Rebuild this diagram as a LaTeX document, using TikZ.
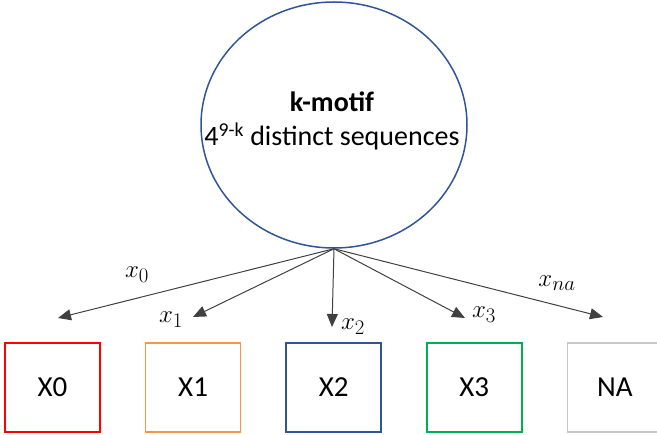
\documentclass[tikz,border=0pt]{standalone}
\usepackage{fontspec}
\setmainfont{Carlito}
\usepackage{xcolor}
\usetikzlibrary{arrows.meta,positioning,shapes.geometric}

\definecolor{motifblue}{HTML}{2F5597}
\definecolor{clsred}{HTML}{FF0000}
\definecolor{clsorange}{HTML}{F79646}
\definecolor{clsblue}{HTML}{2F5597}
\definecolor{clsgreen}{HTML}{00B050}
\definecolor{clsgray}{HTML}{C8C8C8}

\begin{document}
\begin{tikzpicture}[
  x=1pt, y=-1pt, node distance=44pt,
  motif/.style={draw=motifblue, line width=1.5pt, ellipse, minimum width=266pt, minimum height=246pt, inner sep=0pt},
  motiftext/.style={align=center, inner sep=0pt, font=\fontsize{28}{34}\selectfont},
  cls/.style={draw, line width=1.6pt, minimum width=95pt, minimum height=89pt, inner sep=0pt, font=\fontsize{29}{30}\selectfont},
  lbl/.style={font=\fontsize{30}{32}\selectfont, inner sep=0pt},
  arr/.style={draw=black!75, line width=1pt, -{Triangle[length=13pt,width=11pt]}}
]
  \useasboundingbox (0,0) rectangle (657,435);

  \node[motif] (motif) at (334,125) {};
  \node[motiftext] (mtext) at (332,121) {\textbf{k-motif}\\4\textsuperscript{9-k} distinct sequences};

  % output classes
  \node[cls, draw=clsred] (x0) at (52.5,387.5) {X0};
  \node[cls, draw=clsorange, right=of x0] (x1) {X1};
  \node[cls, draw=clsblue, right=of x1] (x2) {X2};
  \node[cls, draw=clsgreen, right=of x2] (x3) {X3};
  \node[cls, draw=clsgray, right=of x3] (na) {NA};

  % arrow tips above the boxes
  \coordinate (t0) at (58,318);
  \coordinate (t1) at (193,317);
  \coordinate (t2) at (332,327);
  \coordinate (t3) at (465,318);
  \coordinate (tna) at (603,317);

  \draw[arr] (motif.south) -- (t0);
  \draw[arr] (motif.south) -- (t1);
  \draw[arr] (motif.south) -- (t2);
  \draw[arr] (motif.south) -- (t3);
  \draw[arr] (motif.south) -- (tna);

  \node[lbl] (l0) at (137,275) {$x_0$};
  \node[lbl] (l1) at (171,320) {$x_1$};
  \node[lbl] (l2) at (353,327) {$x_2$};
  \node[lbl] (l3) at (484,315) {$x_3$};
  \node[lbl] (lna) at (557,283) {$x_{na}$};
\end{tikzpicture}
\end{document}
